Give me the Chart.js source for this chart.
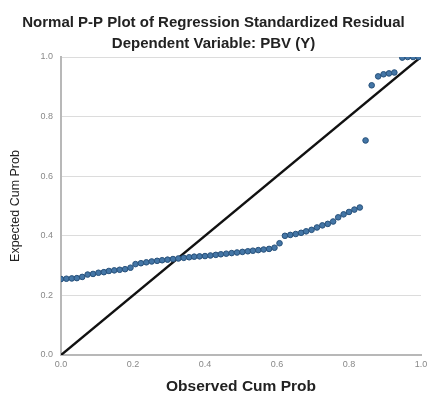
<!DOCTYPE html>
<html>
<head>
<meta charset="utf-8">
<script src="https://cdn.jsdelivr.net/npm/chart.js@4.4.1/dist/chart.umd.min.js"></script>
<style>
  html, body { margin: 0; padding: 0; background: #fff; }
  #wrap { width: 427px; height: 394px; }
</style>
</head>
<body>
<div id="wrap"><canvas id="chart" width="427" height="394"></canvas></div>
<script>
// observed cum prob (x) and expected cum prob (y)
const observed = [
  0.000, 0.015, 0.030, 0.044, 0.059, 0.074, 0.089, 0.104, 0.119, 0.133,
  0.148, 0.163, 0.178, 0.193, 0.207, 0.222, 0.237, 0.252, 0.267, 0.281,
  0.296, 0.311, 0.326, 0.341, 0.356, 0.370, 0.385, 0.400, 0.415, 0.430,
  0.444, 0.459, 0.474, 0.489, 0.504, 0.519, 0.533, 0.548, 0.563, 0.578,
  0.593, 0.607, 0.622, 0.637, 0.652, 0.667, 0.681, 0.696, 0.711, 0.726,
  0.741, 0.756, 0.770, 0.785, 0.800, 0.815, 0.830, 0.846, 0.863, 0.881,
  0.896, 0.911, 0.926, 0.948, 0.963, 0.978, 0.993
];
const expected = [
  0.255, 0.256, 0.257, 0.258, 0.262, 0.270, 0.272, 0.276, 0.278, 0.282,
  0.284, 0.286, 0.288, 0.293, 0.305, 0.308, 0.311, 0.314, 0.316, 0.318,
  0.320, 0.322, 0.324, 0.326, 0.328, 0.330, 0.331, 0.332, 0.334, 0.336,
  0.338, 0.340, 0.342, 0.344, 0.346, 0.348, 0.350, 0.352, 0.354, 0.356,
  0.360, 0.375, 0.400, 0.403, 0.406, 0.410, 0.415, 0.420, 0.428, 0.435,
  0.440, 0.448, 0.462, 0.472, 0.480, 0.488, 0.495, 0.720, 0.905, 0.935,
  0.942, 0.945, 0.948, 0.998, 1.000, 1.000, 1.000
];
const refLine = [[0, 0], [1, 1]];
const tickValues = [0, 0.2, 0.4, 0.6, 0.8, 1.0];

const points = observed.map((x, i) => ({ x: x, y: expected[i] }));
const sans = 'Liberation Sans, Arial, sans-serif';

const ctx = document.getElementById('chart').getContext('2d');
const chart = new Chart(ctx, {
    type: 'scatter',
    data: {
        datasets: [
            {
                type: 'line',
                data: refLine.map(p => ({ x: p[0], y: p[1] })),
                borderColor: '#111111',
                borderWidth: 2.5,
                pointRadius: 0,
                fill: false,
                order: 2
            },
            {
                data: points,
                backgroundColor: '#4476a6',
                borderColor: '#26507a',
                borderWidth: 1,
                pointRadius: 2.8,
                order: 1
            }
        ]
    },
    options: {
        responsive: false,
        animation: false,
        layout: { padding: { left: 0, right: 0, top: 0, bottom: 0 } },
        plugins: {
            legend: { display: false },
            tooltip: { enabled: false },
            title: {
                display: true,
                text: 'Normal P-P Plot of Regression Standardized Residual',
                color: '#222',
                font: { family: sans, size: 15, weight: 'bold', lineHeight: 1.2 },
                padding: { top: 14, bottom: 3 }
            },
            subtitle: {
                display: true,
                text: 'Dependent Variable: PBV (Y)',
                color: '#222',
                font: { family: sans, size: 15, weight: 'bold', lineHeight: 1.2 },
                padding: { top: 0, bottom: 4 }
            }
        },
        scales: {
            x: {
                type: 'linear',
                min: 0,
                max: 1,
                afterBuildTicks: s => { s.ticks = tickValues.map(v => ({ value: v })); },
                // the last label runs off the edge, as in the original
                afterFit: s => { s.height = 39; s.paddingRight = 6; },
                ticks: {
                    color: '#888',
                    font: { family: sans, size: 9 },
                    padding: 4,
                    maxRotation: 0,
                    callback: v => v.toFixed(1)
                },
                grid: { display: false, drawTicks: false },
                border: { display: true, color: '#b8b8b8', width: 2 },
                title: {
                    display: true,
                    text: 'Observed Cum Prob',
                    color: '#222',
                    font: { family: sans, size: 15.5, weight: 'bold', lineHeight: 1 },
                    padding: { top: 0, bottom: 0 }
                }
            },
            y: {
                type: 'linear',
                min: 0,
                max: 1,
                afterBuildTicks: s => { s.ticks = tickValues.map(v => ({ value: v })); },
                afterFit: s => { s.width = 61; },
                ticks: {
                    color: '#888',
                    font: { family: sans, size: 9 },
                    padding: 8,
                    callback: v => v.toFixed(1)
                },
                grid: { color: '#dcdcdc', lineWidth: 1, drawTicks: false },
                border: { display: true, color: '#b8b8b8', width: 2 },
                title: {
                    display: true,
                    text: 'Expected Cum Prob',
                    color: '#222',
                    font: { family: sans, size: 12.5, lineHeight: 1 },
                    padding: { top: 9, bottom: 0 }
                }
            }
        }
    }
});
</script>
</body>
</html>
